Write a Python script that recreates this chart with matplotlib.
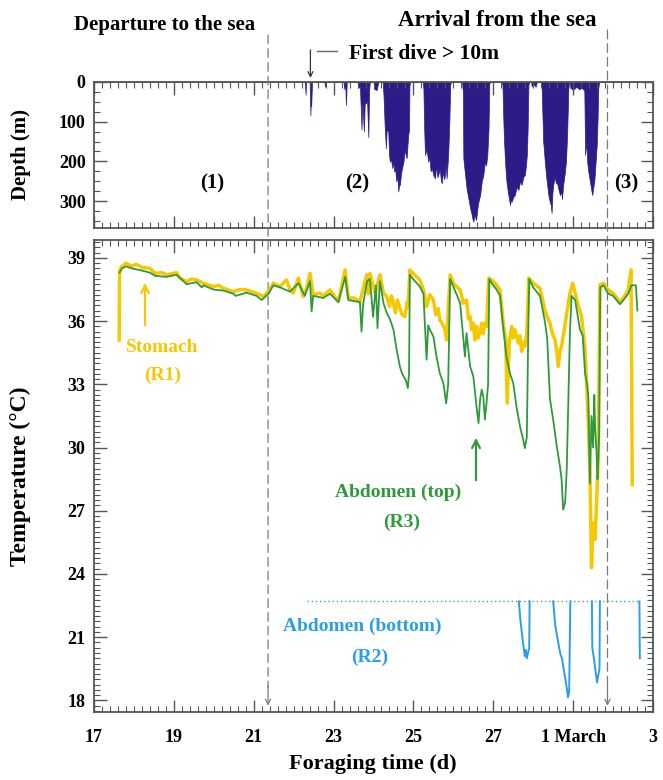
import matplotlib
matplotlib.use("Agg")
import matplotlib.pyplot as plt
from matplotlib.ticker import MultipleLocator, FixedLocator, NullFormatter
from matplotlib.lines import Line2D

# ---------------- data ----------------
# Dive depth envelope (m) vs foraging time (day of February; 29 = 1 March)
dive_day = [17.00, 22.28, 22.30, 22.31, 22.40, 22.42, 22.43, 22.44, 22.46,
            22.77, 22.79, 22.81,
            23.25, 23.27, 23.29, 23.31, 23.33,
            23.60, 23.62, 23.66, 23.70, 23.72, 23.76, 23.78, 23.84, 23.87, 23.89, 23.91,
            24.00, 24.02, 24.08, 24.12,
            24.23, 24.25, 24.28, 24.31, 24.33, 24.37, 24.39, 24.41, 24.44, 24.47, 24.50,
            24.52, 24.54, 24.57, 24.60, 24.62, 24.64, 24.66, 24.69, 24.72, 24.75, 24.78,
            24.81, 24.83, 24.85, 24.87, 24.89, 24.90, 24.92,
            25.23, 25.25, 25.27, 25.29, 25.33, 25.37, 25.40, 25.43, 25.46, 25.50, 25.54,
            25.57, 25.60, 25.62, 25.66, 25.69, 25.71, 25.74, 25.77, 25.79, 25.81, 25.83,
            25.85, 25.87, 25.90, 25.92, 25.94,
            26.22, 26.24, 26.25, 26.29, 26.33, 26.37, 26.42, 26.45, 26.48, 26.50, 26.53,
            26.57, 26.60, 26.63, 26.67, 26.71, 26.75, 26.79, 26.82, 26.85, 26.88, 26.90, 26.92,
            27.21, 27.23, 27.25, 27.27, 27.30, 27.33, 27.37, 27.42, 27.44, 27.46, 27.50,
            27.54, 27.58, 27.63, 27.67, 27.71, 27.75, 27.79, 27.82, 27.84, 27.86, 27.88, 27.90,
            27.95, 27.96, 28.02, 28.06, 28.09,
            28.19, 28.21, 28.23, 28.25, 28.29, 28.32, 28.35, 28.38, 28.41, 28.44, 28.46,
            28.48, 28.50, 28.54, 28.57, 28.59, 28.63, 28.67, 28.70, 28.72, 28.75, 28.79,
            28.82, 28.85, 28.88, 28.90,
            28.92, 28.93, 29.00, 29.08, 29.15, 29.22, 29.28,
            29.30, 29.33, 29.35, 29.38, 29.42, 29.46, 29.48, 29.50, 29.53, 29.55, 29.59,
            29.61, 29.63, 29.65, 31.00]
dive_depth = [0, 0, 32, 0, 0, 84, 40, 60, 0,
              0, 12, 0,
              0, 18, 0, 58, 0,
              0, 15, 10, 120, 50, 125, 55, 50, 139, 20, 0,
              0, 18, 20, 0,
              0, 32, 110, 167, 120, 125, 185, 201, 195, 217, 205,
              226, 215, 250, 240, 276, 262, 259, 230, 215, 201, 170,
              185, 192, 160, 133, 120, 10, 0,
              0, 16, 120, 184, 170, 201, 190, 225, 217, 235, 243,
              210, 240, 234, 220, 250, 255, 225, 245, 234, 200, 243,
              215, 184, 100, 8, 0,
              0, 30, 192, 230, 268, 290, 318, 330, 345, 352, 335,
              348, 320, 301, 285, 251, 235, 201, 210, 184, 120, 5, 0,
              0, 8, 90, 150, 210, 251, 280, 310, 295, 302, 290,
              285, 265, 272, 250, 259, 240, 234, 210, 184, 120, 8, 0,
              0, 10, 6, 12, 0,
              0, 10, 80, 150, 200, 234, 260, 285, 300, 310, 330,
              280, 259, 240, 255, 251, 270, 285, 275, 295, 259, 230,
              201, 130, 16, 0,
              0, 15, 20, 12, 18, 15, 22,
              184, 150, 200, 226, 250, 276, 285, 268, 250, 220, 160,
              100, 16, 0, 0]

# Stomach temperature R1 (°C)
r1_day = [17.63, 17.64, 17.70, 17.80, 17.95, 18.05, 18.20, 18.40, 18.53, 18.70, 18.82,
          18.95, 19.07, 19.15, 19.32, 19.45, 19.57, 19.74, 19.99, 20.12, 20.24, 20.49,
          20.65, 20.82, 21.07, 21.24, 21.37,
          21.49, 21.66, 21.82, 21.91, 21.99, 22.12, 22.24, 22.33, 22.41, 22.49, 22.66,
          22.74, 22.91, 23.12, 23.29, 23.37, 23.50, 23.66, 23.83, 23.87, 23.91, 24.04,
          24.16, 24.25, 24.33, 24.40, 24.45, 24.50, 24.55, 24.60, 24.66, 24.72, 24.79,
          24.84, 24.87, 24.91, 24.99, 25.16, 25.25, 25.33, 25.41, 25.50, 25.56, 25.62,
          25.66, 25.72, 25.79, 25.83, 25.92, 26.00, 26.17, 26.25, 26.33, 26.38, 26.42,
          26.46, 26.50, 26.54, 26.58, 26.62, 26.67, 26.71, 26.75, 26.79, 26.83, 26.89,
          26.96, 27.08, 27.17, 27.25, 27.31, 27.35, 27.40, 27.46, 27.50, 27.54, 27.58,
          27.63, 27.67, 27.71, 27.75, 27.79, 27.84, 27.89, 28.00, 28.17, 28.29, 28.35,
          28.42, 28.48, 28.55, 28.60, 28.63, 28.67, 28.71, 28.78, 28.84, 28.92, 28.99,
          29.09, 29.21, 29.30, 29.38, 29.42, 29.46, 29.50, 29.55, 29.59, 29.63, 29.67,
          29.76, 29.88, 30.00, 30.17, 30.26, 30.38, 30.45, 30.48]
r1_temp = [35.1, 38.4, 38.6, 38.75, 38.6, 38.7, 38.55, 38.5, 38.27, 38.3, 38.2,
           38.25, 38.3, 38.04, 37.88, 38.0, 37.96, 37.8, 37.64, 37.7, 37.56, 37.4,
           37.5, 37.48, 37.33, 37.17, 37.4,
           37.8, 37.64, 37.96, 37.48, 37.33, 38.04, 37.17, 37.6, 38.27, 37.25, 37.33,
           37.2, 37.48, 36.93, 38.43, 37.09, 37.1, 36.93, 38.2, 37.3, 38.27, 37.33,
           38.2, 37.33, 37.17, 36.7, 37.2, 36.85, 36.4, 37.0, 36.61, 36.3, 36.22,
           36.9, 36.69, 38.43, 38.27, 37.96, 37.5, 36.69, 37.25, 37.01, 36.3, 36.6,
           36.06, 35.9, 35.6, 35.11, 38.2, 37.8, 37.48, 36.85, 37.0, 36.1, 36.22,
           35.6, 35.9, 35.11, 35.75, 35.2, 35.43, 35.9, 35.4, 35.9, 35.75, 38.04,
           37.96, 37.72, 37.48, 35.9, 35.11, 32.11, 35.0, 35.75, 35.2, 35.59, 35.3,
           34.96, 35.3, 34.56, 35.0, 34.8, 35.43, 38.04, 37.8, 37.56, 36.54, 36.2,
           35.9, 35.4, 35.11, 34.4, 33.85, 34.6, 34.8, 35.6, 36.38, 37.33, 37.8,
           37.01, 36.22, 34.64, 31.16, 28.8, 24.3, 26.42, 25.64, 27.53, 29.58, 37.72,
           37.8, 37.48, 37.33, 36.93, 37.09, 37.48, 38.43, 28.24]

# Abdomen (top) temperature R3 (°C)
r3_day = [17.64, 17.70, 17.80, 17.95, 18.20, 18.40, 18.53, 18.82, 19.07, 19.32, 19.57,
          19.70, 19.74, 19.99, 20.24, 20.49, 20.55, 20.82, 21.07, 21.20, 21.37,
          21.49, 21.66, 21.91, 22.12, 22.28, 22.41, 22.45, 22.49, 22.74, 22.91, 23.12,
          23.29, 23.37, 23.66, 23.70, 23.74, 23.84, 23.91, 23.99, 24.06, 24.10, 24.16,
          24.25, 24.33, 24.41, 24.50, 24.58, 24.66, 24.70, 24.75, 24.81, 24.86, 24.89,
          24.91, 24.99, 25.16, 25.25, 25.33, 25.37, 25.41, 25.50, 25.58, 25.66, 25.75,
          25.82, 25.87, 25.92, 26.00, 26.17, 26.29, 26.33, 26.42, 26.50, 26.58, 26.63,
          26.67, 26.71, 26.75, 26.79, 26.83, 26.87, 26.90, 26.96, 27.08, 27.17, 27.23,
          27.29, 27.33, 27.38, 27.42, 27.50, 27.58, 27.67, 27.72, 27.75, 27.79, 27.84,
          27.88, 27.90, 28.00, 28.17, 28.29, 28.35, 28.42, 28.50, 28.59, 28.67, 28.71,
          28.75, 28.80, 28.84, 28.92, 28.96, 29.05, 29.17, 29.24, 29.30, 29.35, 29.38,
          29.42, 29.46, 29.50, 29.53, 29.55, 29.59, 29.61, 29.65, 29.68, 29.76, 29.88,
          30.00, 30.17, 30.26, 30.38, 30.46, 30.57, 30.61]
r3_temp = [38.3, 38.5, 38.6, 38.5, 38.4, 38.3, 38.15, 38.1, 38.2, 37.75, 37.85,
           37.6, 37.7, 37.5, 37.45, 37.3, 37.2, 37.35, 37.2, 37.0, 37.3,
           37.7, 37.6, 37.4, 37.8, 37.2, 37.9, 36.46, 37.2, 37.1, 37.3, 36.9,
           38.1, 37.0, 36.9, 35.5, 36.8, 37.9, 38.0, 36.2, 37.7, 35.67, 37.9,
           36.85, 36.4, 36.1, 35.6, 34.64, 33.85, 33.6, 33.38, 33.2, 32.82, 33.5,
           38.2, 38.0, 37.64, 37.3, 34.17, 35.8, 35.6, 35.27, 34.3, 33.53, 33.06,
           32.1, 33.0, 38.0, 37.64, 36.85, 34.32, 35.43, 33.85, 33.38, 31.95, 31.16,
           32.3, 32.75, 32.43, 31.32, 32.1, 33.0, 38.0, 37.8, 37.5, 37.2, 36.0,
           34.96, 34.3, 33.85, 33.5, 33.06, 31.95, 31.0, 30.6, 30.37, 29.97, 30.5,
           36.0, 38.0, 37.6, 37.2, 36.0, 35.2, 32.3, 31.32, 30.06, 29.11, 28.5,
           27.06, 27.4, 29.0, 35.5, 37.2, 37.0, 35.6, 35.3, 33.5, 33.0, 32.4,
           28.3, 31.5, 30.0, 32.5, 31.0, 29.6, 28.5, 30.5, 37.6, 37.7, 37.3,
           37.2, 36.8, 37.0, 37.3, 37.7, 37.7, 36.5]

# Abdomen (bottom) R2: saturated reading and the recorded dips (°C)
r2_cap_day = [22.33, 30.67]
r2_cap_temp = [22.7, 22.7]
r2_dip_days = [[27.64, 27.68, 27.74, 27.79, 27.81, 27.84, 27.90, 27.91],
               [28.50, 28.55, 28.62, 28.68, 28.72, 28.78, 28.84, 28.87, 28.90, 28.93],
               [29.47, 29.48, 29.52, 29.56, 29.60, 29.63, 29.66, 29.67],
               [30.66, 30.67]]
r2_dip_temps = [[22.7, 21.8, 20.8, 20.1, 20.4, 20.0, 20.5, 22.7],
                [22.7, 21.6, 20.8, 20.2, 20.0, 19.3, 18.6, 18.15, 18.4, 22.7],
                [22.7, 20.5, 20.0, 19.4, 18.85, 19.2, 19.5, 22.7],
                [22.7, 20.0]]

departure_day = 21.36
arrival_day = 29.86
first_dive_day = 22.42

xtick_pos = [17, 19, 21, 23, 25, 27, 29, 31]
xtick_lab = ["17", "19", "21", "23", "25", "27", "1 March", "3"]
depth_ticks = [0, 100, 200, 300]
temp_ticks = [18, 21, 24, 27, 30, 33, 36, 39]

# ---------------- styling ----------------
NAVY = "#2d1b88"
YEL = "#f6c800"
GRN = "#2f9a3c"
BLU = "#2a9fe2"
SPINE = "#4f5a4f"
DASH = "#7a7a7a"

plt.rcParams["font.family"] = ["Liberation Serif", "DejaVu Serif"]
plt.rcParams["font.weight"] = "bold"

W, H = 663, 780
fig = plt.figure(figsize=(W / 100, H / 100), dpi=100)


def fx(px):
    return px / W


def fy(py):
    return 1 - py / H


ax1 = fig.add_axes([fx(94), fy(228), 559 / W, 146 / H])
ax2 = fig.add_axes([fx(94), fy(712), 559 / W, 472 / H])

# depth panel
ax1.fill_between(dive_day, 0, dive_depth, color=NAVY, lw=0.5, edgecolor=NAVY)
ax1.set_xlim(17, 31)
ax1.set_ylim(368, 0)
ax1.yaxis.set_major_locator(FixedLocator(depth_ticks))
ax1.yaxis.set_minor_locator(MultipleLocator(25))
ax1.set_ylabel("Depth (m)", fontsize=15, fontweight="bold")
ax1.yaxis.set_label_coords(-0.112, 0.5)

# temperature panel
ax2.plot(r1_day, r1_temp, color=YEL, lw=2.5, zorder=2)
ax2.plot(r3_day, r3_temp, color=GRN, lw=1.3, zorder=3)
ax2.plot(r2_cap_day, r2_cap_temp, color=BLU, lw=1.0, ls=(0, (1, 2)), zorder=2)
for dd, tt in zip(r2_dip_days, r2_dip_temps):
    ax2.plot(dd, tt, color=BLU, lw=1.4, zorder=3)
ax2.set_xlim(17, 31)
ax2.set_ylim(17.45, 39.85)
ax2.yaxis.set_major_locator(FixedLocator(temp_ticks))
ax2.yaxis.set_minor_locator(MultipleLocator(0.25))
ax2.set_ylabel("Temperature (°C)", fontsize=17, fontweight="bold")
ax2.yaxis.set_label_coords(-0.112, 0.5)

for ax in (ax1, ax2):
    ax.xaxis.set_major_locator(FixedLocator(xtick_pos))
    ax.xaxis.set_minor_locator(MultipleLocator(0.2))
    ax.tick_params(which="both", direction="in", top=True, right=True,
                   color=SPINE, labelsize=13)
    ax.tick_params(axis="y", pad=6)
    ax.tick_params(axis="x", pad=12)
    ax.tick_params(which="major", length=9, width=1.0)
    ax.tick_params(which="minor", length=4, width=0.8)
    for s in ax.spines.values():
        s.set_color(SPINE)
        s.set_linewidth(1.3)
    for lab in ax.get_yticklabels():
        lab.set_fontweight("bold")
ax1.xaxis.set_major_formatter(NullFormatter())
ax2.set_xticklabels(xtick_lab, fontweight="bold")
fig.text(fx(373), fy(764), "Foraging time (d)", ha="center", va="center",
         fontsize=16, fontweight="bold")

# dashed departure / arrival lines across both panels
for d, ytop in ((departure_day, 35), (arrival_day, 30)):
    ax2.annotate("", xy=(d, 18.6), xycoords="data",
                 xytext=(d, fy(ytop)), textcoords=("data", "figure fraction"),
                 arrowprops=dict(arrowstyle="-", color=DASH, lw=0.9,
                                 linestyle=(0, (7, 4)), shrinkA=0, shrinkB=0),
                 annotation_clip=False, zorder=1)
    ax2.annotate("", xy=(d, 17.75), xycoords="data", xytext=(d, 18.7),
                 arrowprops=dict(arrowstyle="->", color=DASH, lw=0.9,
                                 shrinkA=0, shrinkB=0, mutation_scale=9),
                 annotation_clip=False, zorder=1)

# first dive arrow
ax1.annotate("", xy=(first_dive_day, fy(78)), xycoords=("data", "figure fraction"),
             xytext=(first_dive_day, fy(50)), textcoords=("data", "figure fraction"),
             arrowprops=dict(arrowstyle="->", color="#333333", lw=0.9,
                             shrinkA=0, shrinkB=0, mutation_scale=9),
             annotation_clip=False)
fig.add_artist(Line2D([fx(317), fx(337)], [fy(51), fy(51)], color="#666666", lw=1.0))

fig.text(fx(165), fy(25), "Departure to the sea", ha="center", va="center",
         fontsize=15, fontweight="bold")
fig.text(fx(497), fy(20), "Arrival from the sea", ha="center", va="center",
         fontsize=16.5, fontweight="bold")
fig.text(fx(349), fy(54), "First dive > 10m", ha="left", va="center",
         fontsize=15.5, fontweight="bold")
for s, x in (("(1)", 212), ("(2)", 357), ("(3)", 626)):
    fig.text(fx(x), fy(183), s, ha="center", va="center", fontsize=15, fontweight="bold")

fig.text(fx(162), fy(348), "Stomach", ha="center", va="center", fontsize=14,
         fontweight="bold", color=YEL)
fig.text(fx(163), fy(375), "(R1)", ha="center", va="center", fontsize=14,
         fontweight="bold", color=YEL)
fig.text(fx(398), fy(492), "Abdomen (top)", ha="center", va="center", fontsize=14,
         fontweight="bold", color=GRN)
fig.text(fx(402), fy(522), "(R3)", ha="center", va="center", fontsize=14,
         fontweight="bold", color=GRN)
fig.text(fx(362), fy(626), "Abdomen (bottom)", ha="center", va="center", fontsize=14,
         fontweight="bold", color=BLU)
fig.text(fx(370), fy(657), "(R2)", ha="center", va="center", fontsize=14,
         fontweight="bold", color=BLU)

for (x, y0, y1, c) in ((145, 328, 280, YEL), (476, 483, 435, GRN)):
    fig.add_artist(matplotlib.patches.FancyArrowPatch(
        (fx(x), fy(y0)), (fx(x), fy(y1)), transform=fig.transFigure,
        arrowstyle="->", mutation_scale=14, color=c, lw=1.6))

fig.savefig("out.png", dpi=100)
